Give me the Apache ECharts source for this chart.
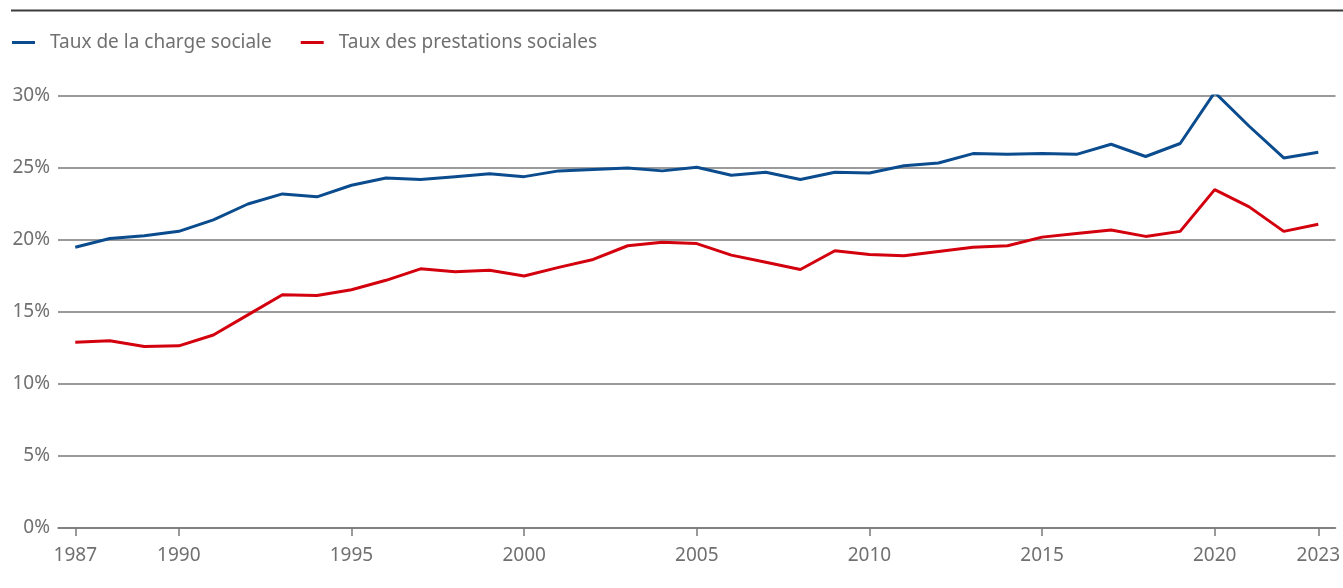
<!DOCTYPE html>
<html>
<head>
<meta charset="utf-8">
<script src="https://cdn.jsdelivr.net/npm/echarts@6/dist/echarts.min.js"></script>
<style>
  html, body { margin: 0; padding: 0; background: #fff; }
  #chart { width: 1343px; height: 588px; }
</style>
</head>
<body>
<div id="chart"></div>
<script>
// Years 1987–2023
const years = [];
for (let y = 1987; y <= 2023; y++) years.push(String(y));

// Labelled years on the horizontal axis
const tickYears = ['1987', '1990', '1995', '2000', '2005', '2010', '2015', '2020', '2023'];

const seriesNames = ['Taux de la charge sociale', 'Taux des prestations sociales'];

// Taux de la charge sociale (%)
const chargeSociale = [
  19.5, 20.1, 20.3, 20.6, 21.4, 22.5, 23.2, 23.0, 23.8, 24.3,
  24.2, 24.4, 24.6, 24.4, 24.8, 24.9, 25.0, 24.8, 25.05, 24.5,
  24.7, 24.2, 24.7, 24.65, 25.15, 25.35, 26.0, 25.95, 26.0, 25.95,
  26.65, 25.8, 26.7, 30.25, 27.9, 25.7, 26.1
];

// Taux des prestations sociales (%)
const prestationsSociales = [
  12.9, 13.0, 12.6, 12.65, 13.4, 14.8, 16.2, 16.15, 16.55, 17.2,
  18.0, 17.8, 17.9, 17.5, 18.1, 18.65, 19.6, 19.85, 19.75, 18.95,
  18.45, 17.95, 19.25, 19.0, 18.9, 19.2, 19.5, 19.6, 20.2, 20.45,
  20.7, 20.25, 20.6, 23.5, 22.3, 20.6, 21.1
];

// Percentage axis ticks
const yTicks = [0, 5, 10, 15, 20, 25, 30];

const colors = ['#0b4c8e', '#d3000e'];
const font = '"Noto Sans", "Open Sans", sans-serif';
const grey = '#707070';
const fontSize = 19;

const chart = echarts.init(document.getElementById('chart'), null, { renderer: 'canvas' });

const showYear = (idx, val) => tickYears.indexOf(val) !== -1;

chart.setOption({
  animation: false,
  textStyle: { fontFamily: font },
  graphic: [{
    type: 'line',
    shape: { x1: 11, y1: 10.5, x2: 1343, y2: 10.5 },
    style: { stroke: '#3c3c3c', lineWidth: 2 }
  }],
  legend: {
    left: 12,
    top: 33,
    padding: 0,
    icon: 'rect',
    itemWidth: 23,
    itemHeight: 3,
    itemGap: 29,
    textStyle: { fontFamily: font, fontSize: fontSize, color: grey, padding: [0, 0, 0, 10] },
    data: seriesNames
  },
  grid: { left: 58, right: 7, top: 96, bottom: 60, containLabel: false },
  xAxis: {
    type: 'category',
    data: years,
    boundaryGap: true,
    axisLine: { show: true, lineStyle: { color: '#7a7a7a', width: 1.5 } },
    axisTick: { show: true, alignWithLabel: true, interval: showYear, length: 8, lineStyle: { color: '#7a7a7a', width: 1.5 } },
    axisLabel: { interval: showYear, color: grey, fontSize: fontSize, fontFamily: font, margin: 18 },
    splitLine: { show: false }
  },
  yAxis: {
    type: 'value',
    min: yTicks[0],
    max: yTicks[yTicks.length - 1],
    interval: 5,
    axisLine: { show: false },
    axisTick: { show: false },
    axisLabel: { formatter: '{value}%', color: grey, fontSize: fontSize, fontFamily: font, margin: 8 },
    splitLine: { lineStyle: { color: '#7a7a7a', width: 1.5 } }
  },
  series: [
    {
      name: seriesNames[0],
      type: 'line',
      data: chargeSociale,
      symbol: 'none',
      color: colors[0],
      lineStyle: { width: 3, color: colors[0] }
    },
    {
      name: seriesNames[1],
      type: 'line',
      data: prestationsSociales,
      symbol: 'none',
      color: colors[1],
      lineStyle: { width: 3, color: colors[1] }
    }
  ]
});
</script>
</body>
</html>
